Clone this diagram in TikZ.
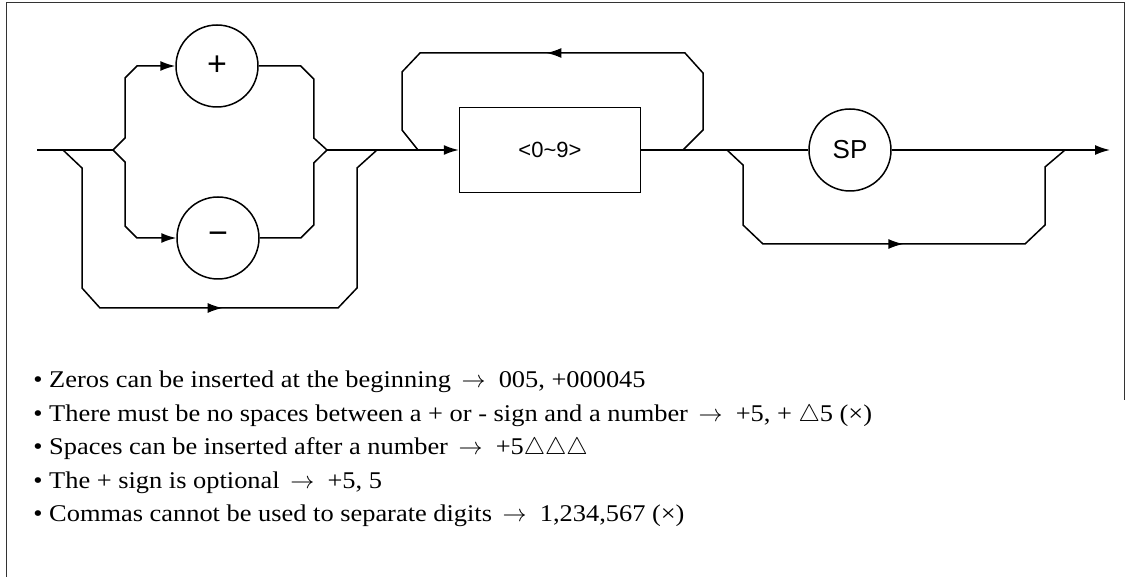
\documentclass[tikz,border=0pt]{standalone}
\usepackage{fontspec}
\setmainfont{Liberation Serif}[FakeStretch=1.1]
\setsansfont{Liberation Sans}
\usetikzlibrary{arrows.meta,decorations.markings}

\tikzset{
    rail/.style={line width=0.75pt},
    railto/.style={rail,-{Latex[length=7.5pt,width=5pt]}},
    midarrow/.style={rail,postaction={decorate},
        decoration={markings,mark=at position #1 with {\arrow{Latex[length=7.5pt,width=5pt]}}}},
    term/.style={circle,draw,rail,minimum size=41pt,inner sep=0pt,font=\sffamily\fontsize{13}{15}\selectfont},
    sign/.style={term,font=\sffamily\fontsize{17}{19}\selectfont},
    nonterm/.style={rectangle,draw,rail,minimum width=90.5pt,minimum height=42.5pt,inner sep=0pt,font=\sffamily\fontsize{11}{13}\selectfont},
    note/.style={anchor=base west,inner sep=0pt,font=\fontsize{12}{14}\selectfont},
    frame/.style={line width=0.5pt,black!80}
}

\begin{document}
\begin{tikzpicture}[x=0.5pt,y=-0.5pt]
    \useasboundingbox (0,0) rectangle (1126,577);
    \draw[frame] (6,577) -- (6,3) -- (1124,3) -- (1124,400);

    \node[sign] (plus) at (217,66) {+};
    \node[sign] (minus) at (218,238) {−};
    \node[nonterm] (digits) at (550,150) {<0\textasciitilde 9>};
    \node[term] (sp) at (850,150) {SP};

    \coordinate (in) at (37,150);
    \coordinate (byA) at (63,150);
    \coordinate (fork) at (113,150);
    \coordinate (join) at (327,150);
    \coordinate (byB) at (377,150);
    \coordinate (loopin) at (418,150);
    \coordinate (loopout) at (683,150);
    \coordinate (byC) at (727,150);
    \coordinate (byD) at (1065,150);
    \coordinate (out) at (1110,150);

    \draw[rail] (in) -- (fork);
    \draw[railto] (fork) -- ++(12,-12) -- ++(0,-60) -- ++(12,-12) -- (plus.west);
    \draw[rail] (plus.east) -- ++(42,0) -- ++(13,13) -- ++(0,59) -- (join);
    \draw[railto] (fork) -- ++(12,12) -- ++(0,64) -- ++(12,12) -- (minus.west);
    \draw[rail] (minus.east) -- ++(41,0) -- ++(13,-13) -- ++(0,-62) -- (join);
    \draw[midarrow=0.505] (byA) -- ++(19,18) -- ++(0,120) -- ++(18,20) -- ++(238,0)
        -- ++(19,-20) -- ++(0,-120) -- (byB);

    \draw[railto] (join) -- (digits.west);
    \draw[midarrow=0.515] (loopout) -- ++(20,-20) -- ++(0,-57) -- ++(-18,-20) -- ++(-265,0)
        -- ++(-18,19) -- ++(0,58) -- (loopin);

    \draw[rail] (digits.east) -- (sp.west);
    \draw[railto] (sp.east) -- (out);
    \draw[midarrow=0.517] (byC) -- ++(16,15) -- ++(0,60) -- ++(20,19) -- ++(262,0)
        -- ++(20,-19) -- ++(0,-58) -- (byD);

    \node[note] (note1) at (33,388) {\textbullet\ Zeros can be inserted at the beginning\ \,$\rightarrow$\ \ 005, +000045};
    \node[note] (note2) at (33,421.5) {\textbullet\ There must be no spaces between a + or - sign and a number\ \,$\rightarrow$\ \ +5, + $\triangle$5 (\texttimes)};
    \node[note] (note3) at (33,455) {\textbullet\ Spaces can be inserted after a number\ \,$\rightarrow$\ \ +5$\triangle\triangle\triangle$};
    \node[note] (note4) at (33,488.5) {\textbullet\ The + sign is optional\ \,$\rightarrow$\ \ +5, 5};
    \node[note] (note5) at (33,522) {\textbullet\ Commas cannot be used to separate digits\ \,$\rightarrow$\ \ 1,234,567 (\texttimes)};
\end{tikzpicture}
\end{document}
